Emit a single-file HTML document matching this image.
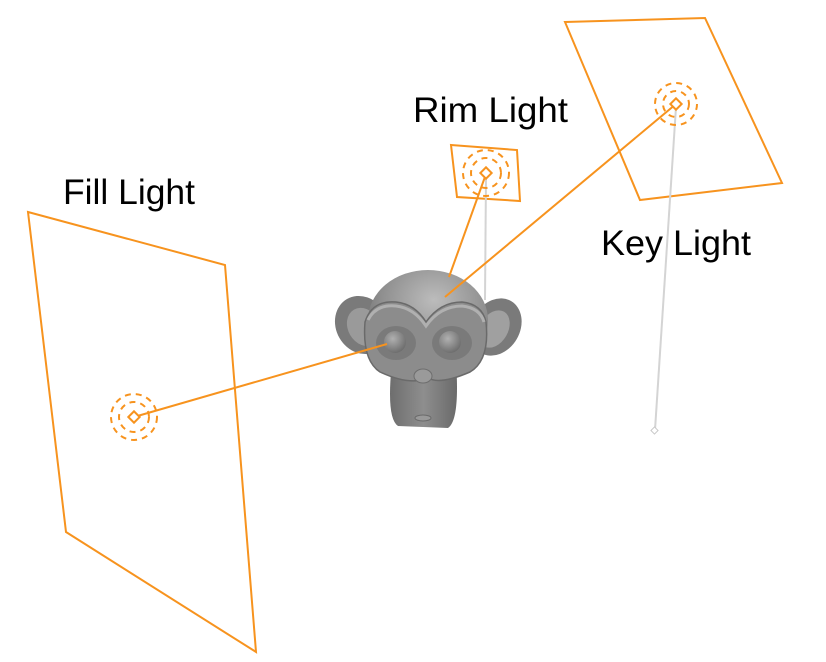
<!DOCTYPE html>
<html><head><meta charset="utf-8"><style>
html,body{margin:0;padding:0;background:#fff;}
svg{display:block;}
text{font-family:"Liberation Sans",sans-serif;font-size:35px;fill:#000;}
</style></head><body>
<svg width="826" height="662" viewBox="0 0 826 662">
<defs>
<radialGradient id="hg" cx="0.55" cy="0.3" r="0.75">
<stop offset="0" stop-color="#bcbcbc"/><stop offset="0.6" stop-color="#8e8e8e"/><stop offset="1" stop-color="#646464"/>
</radialGradient>
<radialGradient id="eg" cx="0.4" cy="0.35" r="0.7">
<stop offset="0" stop-color="#b0b0b0"/><stop offset="1" stop-color="#6a6a6a"/>
</radialGradient>
<linearGradient id="jg" x1="0" x2="1">
<stop offset="0" stop-color="#6e6e6e"/><stop offset="0.5" stop-color="#8e8e8e"/><stop offset="1" stop-color="#6a6a6a"/>
</linearGradient>
</defs>
<g fill="none" stroke="#f7931e" stroke-width="2">
<polygon points="28,212 225,265 256,652 66,532"/>
<polygon points="451,145 517,150 520,201 457,197"/>
<polygon points="565,22 705,18 782,183 640,200"/>
</g>
<g stroke="#d4d4d4" stroke-width="2">
<line x1="486" y1="176" x2="485" y2="300"/>
<line x1="676" y1="107" x2="655" y2="430"/>
</g>
<rect x="652" y="428" width="5" height="5" transform="rotate(45 654.5 430.5)" fill="#fff" stroke="#c8c8c8" stroke-width="1"/>
<g>
<ellipse cx="362" cy="325" rx="26" ry="30" transform="rotate(-30 362 325)" fill="#7a7a7a"/>
<ellipse cx="364" cy="327" rx="16" ry="20" transform="rotate(-30 364 327)" fill="#9a9a9a"/>
<ellipse cx="496" cy="327" rx="24" ry="30" transform="rotate(30 496 327)" fill="#7a7a7a"/>
<ellipse cx="494" cy="329" rx="14" ry="20" transform="rotate(30 494 329)" fill="#a0a0a0"/>
<path d="M392 362 Q386 418 398 426 L448 428 Q460 420 456 362 Z" fill="url(#jg)"/>
<ellipse cx="428" cy="320" rx="60" ry="50" fill="url(#hg)"/>
<path d="M365 322 Q372 300 396 302 Q415 304 426 322 Q440 302 462 302 Q482 304 486 322 Q490 360 470 372 Q440 385 428 378 Q410 386 380 372 Q362 360 365 322 Z" fill="#8c8c8c" stroke="#6a6a6a" stroke-width="1.5"/>
<path d="M368 320 Q376 304 396 306 Q414 308 426 326 Q440 306 462 306 Q480 308 484 322" fill="none" stroke="#b0b0b0" stroke-width="3"/>
<ellipse cx="396" cy="343" rx="20" ry="17" fill="#7a7a7a"/>
<ellipse cx="452" cy="343" rx="20" ry="17" fill="#7a7a7a"/>
<circle cx="395" cy="342" r="11" fill="url(#eg)"/>
<circle cx="450" cy="342" r="11" fill="url(#eg)"/>
<ellipse cx="423" cy="376" rx="9" ry="7" fill="#9a9a9a" stroke="#6e6e6e"/>
<ellipse cx="423" cy="418" rx="8" ry="3" fill="#999" stroke="#6a6a6a"/>
</g>
<g stroke="#f7931e" stroke-width="2">
<line x1="134" y1="417" x2="387" y2="344"/>
<line x1="486" y1="174" x2="449" y2="277"/>
<line x1="676" y1="104" x2="445" y2="297"/>
</g>
<g fill="none" stroke="#f7931e" stroke-width="2" stroke-dasharray="6 5">
<circle cx="134" cy="417" r="15"/>
<circle cx="134" cy="417" r="23"/>
<circle cx="486" cy="173" r="15"/>
<circle cx="486" cy="173" r="23"/>
<circle cx="676" cy="104" r="13"/>
<circle cx="676" cy="104" r="21"/>
</g>
<g fill="#fff" stroke="#f7931e" stroke-width="2">
<rect x="130" y="413" width="8" height="8" transform="rotate(45 134 417)"/>
<rect x="482" y="169" width="8" height="8" transform="rotate(45 486 173)"/>
<rect x="672" y="100" width="8" height="8" transform="rotate(45 676 104)"/>
</g>
<text x="63" y="204" textLength="132" lengthAdjust="spacingAndGlyphs">Fill Light</text>
<text x="413" y="122" textLength="155" lengthAdjust="spacingAndGlyphs">Rim Light</text>
<text x="601" y="255" textLength="150" lengthAdjust="spacingAndGlyphs">Key Light</text>
</svg>
</body></html>
